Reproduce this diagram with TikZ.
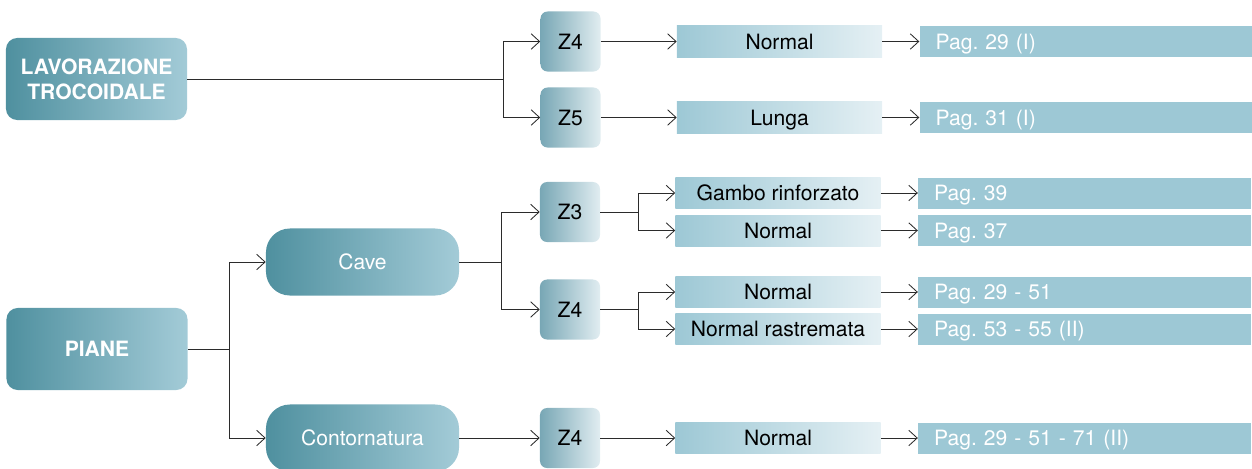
\documentclass[tikz,border=0pt]{standalone}
\usepackage{fontspec}
\setmainfont{TeX Gyre Heros}
\usetikzlibrary{arrows.meta,positioning}

\definecolor{tealdark}{HTML}{4F909F}
\definecolor{teallight}{HTML}{A3CBD7}
\definecolor{zdark}{HTML}{78A7B5}
\definecolor{zlight}{HTML}{E1EDF1}
\definecolor{midblue}{HTML}{9DC8D5}
\definecolor{paleblue}{HTML}{E5F0F4}
\definecolor{linegray}{HTML}{2B2B2B}

\frenchspacing

\begin{document}
\begin{tikzpicture}[
  x=0.025cm, y=-0.025cm,
  font=\fontsize{15}{18}\selectfont,
  group/.style={rounded corners=8pt, left color=tealdark, right color=teallight,
                text=white, font=\fontsize{15}{18}\selectfont\bfseries, align=center,
                minimum width=4.525cm, minimum height=2.05cm},
  family/.style={rounded corners=17pt, left color=tealdark, right color=teallight,
                 text=white, minimum width=4.825cm, minimum height=1.675cm},
  teeth/.style={rounded corners=5pt, left color=zdark, right color=zlight,
                minimum width=1.5cm, minimum height=1.5cm},
  kind/.style={left color=midblue, right color=paleblue, inner sep=0pt,
               text height=11pt, text depth=0.2pt,
               minimum width=5.125cm, minimum height=0.775cm},
  page/.style={fill=midblue, text=white, align=left, text width=7.525cm,
               text height=11pt, text depth=0.2pt,
               inner xsep=0.4cm, inner ysep=0pt, minimum height=0.775cm,
               right=0.925cm of #1},
  link/.style={linegray, line width=0.6pt},
  arrow/.style={link, -{Straight Barb[length=6pt, width=11pt]}}
]
\useasboundingbox (0,0) rectangle (1252,468);

% trochoidal milling
\node[group] (lav)   at (96.5,79)    {LAVORAZIONE\\TROCOIDALE};
\node[teeth] (z4a)   at (570.5,41.5) {Z4};
\node[teeth] (z5)    at (570.5,117.5){Z5};
\node[kind]  (nrm1)  at (779.5,41.5) {Normal};
\node[kind]  (lunga) at (779.5,117.5){Lunga};
\node[page=nrm1]  (p1) {Pag. 29 (I)};
\node[page=lunga] (p2) {Pag. 31 (I)};

% flat end mills
\node[group]  (piane) at (97,349)    {PIANE};
\node[family] (cave)  at (362.5,262) {Cave};
\node[family] (cont)  at (362.5,438) {Contornatura};
\node[teeth]  (z3)    at (570,212)   {Z3};
\node[teeth]  (z4b)   at (570,309.5) {Z4};
\node[teeth]  (z4c)   at (570,438)   {Z4};
\node[kind]   (gambo) at (778,193)   {Gambo rinforzato};
\node[kind]   (nrm2)  at (778,230.5) {Normal};
\node[kind]   (nrm3)  at (778,292)   {Normal};
\node[kind]   (rast)  at (778,329)   {Normal rastremata};
\node[kind]   (nrm4)  at (778,438)   {Normal};
\node[page=gambo] (p3) {Pag. 39};
\node[page=nrm2]  (p4) {Pag. 37};
\node[page=nrm3]  (p5) {Pag. 29 - 51};
\node[page=rast]  (p6) {Pag. 53 - 55 (II)};
\node[page=nrm4]  (p7) {Pag. 29 - 51 - 71 (II)};

% branch points
\coordinate (j1) at (503,79);
\coordinate (j2) at (229,349);
\coordinate (j3) at (501,262);
\coordinate (j4) at (638,212);
\coordinate (j5) at (638,309.5);

\draw[link]  (lav) -- (j1);
\draw[arrow] (j1) |- (z4a);
\draw[arrow] (j1) |- (z5);
\draw[arrow] (z4a) -- (nrm1);
\draw[arrow] (z5) -- (lunga);
\draw[arrow] (nrm1) -- (p1);
\draw[arrow] (lunga) -- (p2);

\draw[link]  (piane) -- (j2);
\draw[arrow] (j2) |- (cave);
\draw[arrow] (j2) |- (cont);
\draw[link]  (cave) -- (j3);
\draw[arrow] (j3) |- (z3);
\draw[arrow] (j3) |- (z4b);
\draw[arrow] (cont) -- (z4c);
\draw[link]  (z3) -- (j4);
\draw[arrow] (j4) |- (gambo);
\draw[arrow] (j4) |- (nrm2);
\draw[link]  (z4b) -- (j5);
\draw[arrow] (j5) |- (nrm3);
\draw[arrow] (j5) |- (rast);
\draw[arrow] (z4c) -- (nrm4);
\draw[arrow] (gambo) -- (p3);
\draw[arrow] (nrm2) -- (p4);
\draw[arrow] (nrm3) -- (p5);
\draw[arrow] (rast) -- (p6);
\draw[arrow] (nrm4) -- (p7);
\end{tikzpicture}
\end{document}
